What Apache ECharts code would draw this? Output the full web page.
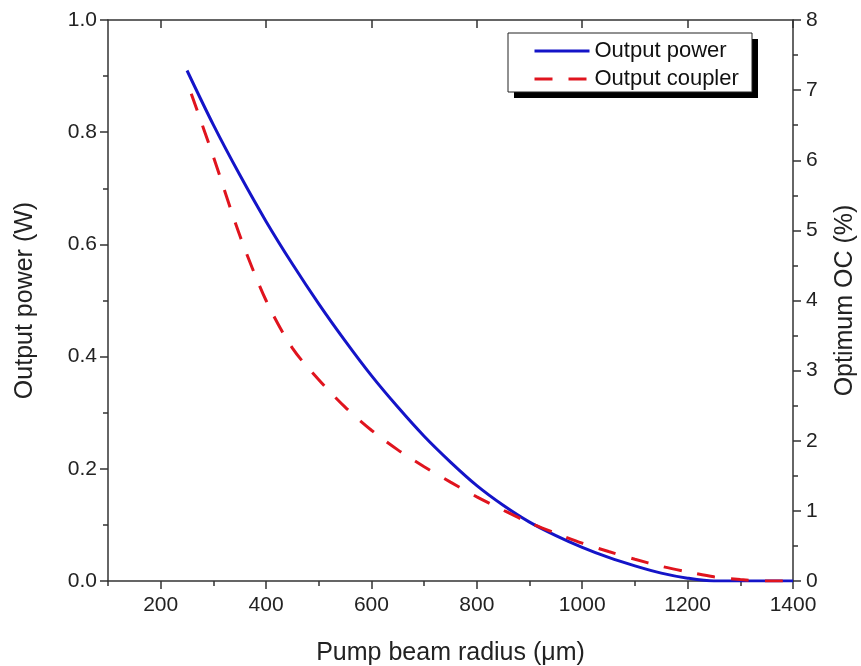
<!DOCTYPE html>
<html>
<head>
<meta charset="utf-8">
<script src="https://cdn.jsdelivr.net/npm/echarts@6/dist/echarts.min.js"></script>
<style>html,body{margin:0;padding:0;background:#fff}#c{width:861px;height:666px}</style>
</head>
<body>
<div id="c"></div>
<script>
// Pump beam radius (µm) and output power (W) — left axis
const powerRadius = [250, 300, 350, 400, 450, 500, 550, 600, 650, 700, 750, 800, 850, 900, 950, 1000, 1050, 1100, 1150, 1200, 1250, 1300, 1350, 1400];
const powerValues = [0.910, 0.813, 0.724, 0.641, 0.565, 0.494, 0.428, 0.366, 0.310, 0.258, 0.212, 0.170, 0.135, 0.105, 0.081, 0.060, 0.042, 0.027, 0.014, 0.005, 0.000, 0.000, 0.000, 0.000];
// Pump beam radius (µm) and optimum output coupler (%) — right axis
const ocRadius = [258, 300, 350, 400, 450, 500, 550, 600, 650, 700, 750, 800, 850, 900, 950, 1000, 1050, 1100, 1150, 1200, 1250, 1300, 1350, 1400];
const ocValues = [6.95, 6.05, 4.93, 4.00, 3.32, 2.87, 2.48, 2.15, 1.87, 1.63, 1.41, 1.20, 1.01, 0.83, 0.68, 0.54, 0.42, 0.31, 0.21, 0.13, 0.06, 0.02, 0.00, 0.00];
// Tick labels
const xMajorTicks = [200, 400, 600, 800, 1000, 1200, 1400];
const xMinorTicks = [100, 300, 500, 700, 900, 1100, 1300];
const seriesNames = ['Output power', 'Output coupler'];

const font = 'Liberation Sans, Arial, sans-serif';
const axisColor = '#333';
const chart = echarts.init(document.getElementById('c'));

const baseX = {
  type: 'value', min: 100, max: 1400, gridIndex: 0,
  splitLine: { show: false },
  axisLine: { show: true, onZero: false, lineStyle: { color: axisColor, width: 1.5 } }
};
const tickLine = { color: axisColor, width: 1.5 };

chart.setOption({
  animation: false,
  backgroundColor: '#fff',
  grid: { left: 108, right: 68, top: 20, bottom: 85, outerBoundsMode: 'none', containLabel: false },
  graphic: [
    { type: 'rect', z: 1, shape: { x: 514, y: 39, width: 244, height: 59 }, style: { fill: '#000' } },
    { type: 'rect', z: 1, shape: { x: 508, y: 33, width: 244, height: 59 }, style: { fill: '#fff', stroke: '#222', lineWidth: 1 } }
  ],
  legend: {
    left: 508, top: 33,
    orient: 'vertical',
    itemWidth: 55, itemHeight: 14, itemGap: 6,
    padding: [7, 10, 2, 25],
    z: 5,
    itemStyle: { opacity: 0 },
    lineStyle: { width: 3 },
    textStyle: { fontFamily: font, fontSize: 22, color: '#111' },
    data: seriesNames
  },
  xAxis: [
    Object.assign({}, baseX, {
      position: 'bottom',
      name: 'Pump beam radius (\u03bcm)', nameLocation: 'middle', nameGap: 60,
      nameTextStyle: { fontFamily: font, fontSize: 25, color: '#222' },
      axisTick: { show: true, length: 8, customValues: xMajorTicks, lineStyle: tickLine },
      axisLabel: { show: true, customValues: xMajorTicks, margin: 14, fontFamily: font, fontSize: 21, color: '#222', formatter: v => String(v) }
    }),
    Object.assign({}, baseX, {
      position: 'bottom',
      axisLine: { show: false },
      axisTick: { show: true, length: 5, customValues: xMinorTicks, lineStyle: tickLine },
      axisLabel: { show: false }
    }),
    Object.assign({}, baseX, {
      position: 'top',
      axisTick: { show: true, inside: true, length: 8, customValues: xMajorTicks, lineStyle: tickLine },
      axisLabel: { show: false }
    }),
    Object.assign({}, baseX, {
      position: 'top',
      axisLine: { show: false },
      axisTick: { show: true, inside: true, length: 5, customValues: xMinorTicks, lineStyle: tickLine },
      axisLabel: { show: false }
    })
  ],
  yAxis: [
    {
      type: 'value', position: 'left', min: 0, max: 1.0, interval: 0.2,
      name: 'Output power (W)', nameLocation: 'middle', nameGap: 70, nameRotate: 90,
      nameTextStyle: { fontFamily: font, fontSize: 25, color: '#222' },
      splitLine: { show: false },
      axisLine: { show: true, onZero: false, lineStyle: tickLine },
      axisTick: { show: true, length: 8, lineStyle: tickLine },
      minorTick: { show: true, splitNumber: 2, length: 5, lineStyle: tickLine },
      axisLabel: { margin: 11, fontFamily: font, fontSize: 21, color: '#222', formatter: v => v.toFixed(1) }
    },
    {
      type: 'value', position: 'right', min: 0, max: 8, interval: 1,
      name: 'Optimum OC (%)', nameLocation: 'middle', nameGap: 40, nameRotate: 90,
      nameTextStyle: { fontFamily: font, fontSize: 25, color: '#222' },
      splitLine: { show: false },
      axisLine: { show: true, onZero: false, lineStyle: tickLine },
      axisTick: { show: true, length: 8, lineStyle: tickLine },
      minorTick: { show: true, splitNumber: 2, length: 5, lineStyle: tickLine },
      axisLabel: { margin: 13, fontFamily: font, fontSize: 21, color: '#222' }
    }
  ],
  series: [
    {
      name: seriesNames[0], type: 'line', xAxisIndex: 0, yAxisIndex: 0,
      data: powerRadius.map((r, i) => [r, powerValues[i]]),
      symbol: 'none', smooth: 0.3,
      lineStyle: { color: '#1414c8', width: 3 },
      itemStyle: { color: '#1414c8' }
    },
    {
      name: seriesNames[1], type: 'line', xAxisIndex: 0, yAxisIndex: 1,
      data: ocRadius.map((r, i) => [r, ocValues[i]]),
      symbol: 'none', smooth: 0.3,
      lineStyle: { color: '#e0141e', width: 3, type: [18, 16] },
      itemStyle: { color: '#e0141e' }
    }
  ]
});
</script>
</body>
</html>
